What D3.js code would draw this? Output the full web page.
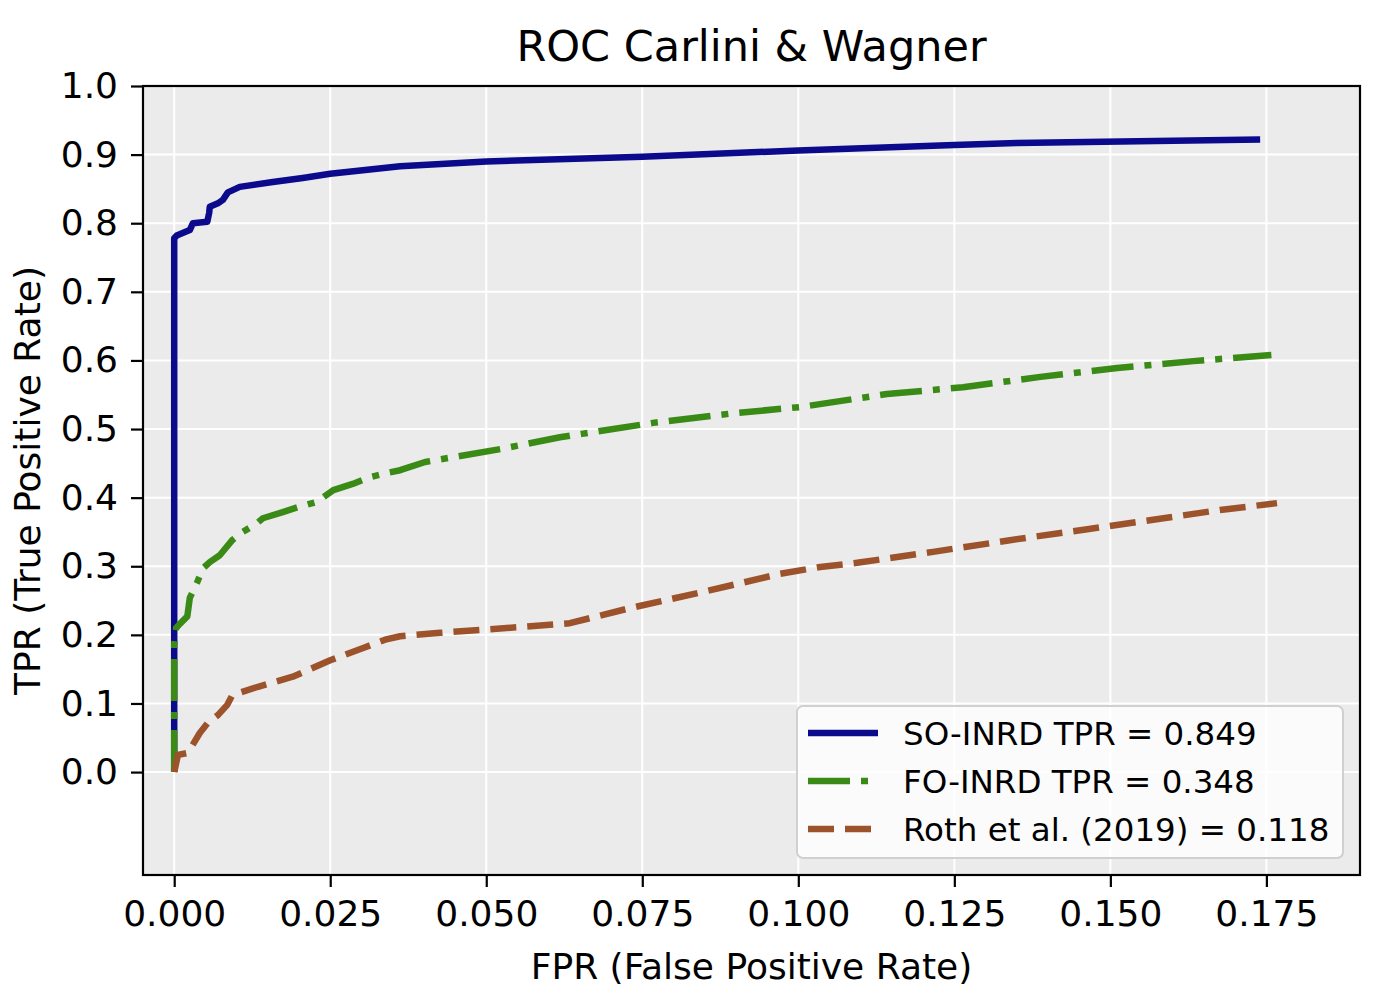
<!DOCTYPE html>
<html>
<head>
<meta charset="utf-8">
<script src="https://cdn.jsdelivr.net/npm/d3@7"></script>
<style>
  body { margin: 0; background: #fff; }
  svg { display: block; font-family: "DejaVu Sans", sans-serif; }
</style>
</head>
<body>
<svg id="chart" width="1397" height="1007"></svg>
<script>
// ROC curves
var soFpr = [0, 0, 0.0004, 0.0025, 0.0030, 0.0053, 0.0056, 0.0057, 0.0070, 0.0078, 0.0086, 0.0105, 0.0158, 0.0206, 0.0250, 0.0362, 0.0500, 0.0750, 0.1000, 0.1250, 0.1350, 0.1740];
var soTpr = [0, 0.778, 0.782, 0.790, 0.800, 0.802, 0.815, 0.824, 0.829, 0.834, 0.845, 0.853, 0.860, 0.866, 0.872, 0.883, 0.890, 0.897, 0.906, 0.914, 0.917, 0.922];

var foFpr = [0, 0, 0.0003, 0.0009, 0.0021, 0.0025, 0.0037, 0.0046, 0.0057, 0.0073, 0.0093, 0.0110, 0.0133, 0.0142, 0.0174, 0.0198, 0.0229, 0.0255, 0.0286, 0.0314, 0.0341, 0.0362, 0.0402, 0.0530, 0.0618, 0.0653, 0.0767, 0.0896, 0.1003, 0.1142, 0.1264, 0.1388, 0.1511, 0.1633, 0.1758];
var foTpr = [0, 0.185, 0.210, 0.216, 0.227, 0.254, 0.277, 0.297, 0.306, 0.316, 0.338, 0.350, 0.363, 0.370, 0.379, 0.386, 0.394, 0.411, 0.420, 0.430, 0.436, 0.440, 0.452, 0.472, 0.488, 0.493, 0.509, 0.523, 0.532, 0.551, 0.561, 0.576, 0.589, 0.599, 0.608];

var rothFpr = [0, 0.0001, 0.0006, 0.0022, 0.0041, 0.0054, 0.0070, 0.0085, 0.0093, 0.0133, 0.0190, 0.0250, 0.0306, 0.0338, 0.0362, 0.0426, 0.0549, 0.0634, 0.0730, 0.0854, 0.0971, 0.1035, 0.1094, 0.1216, 0.1339, 0.1463, 0.1585, 0.1676, 0.1767];
var rothTpr = [0, 0.004, 0.025, 0.028, 0.057, 0.072, 0.083, 0.098, 0.112, 0.124, 0.139, 0.163, 0.182, 0.193, 0.198, 0.203, 0.211, 0.217, 0.239, 0.264, 0.289, 0.299, 0.305, 0.321, 0.338, 0.354, 0.370, 0.382, 0.392];

var seriesNames = ['SO-INRD TPR = 0.849', 'FO-INRD TPR = 0.348', 'Roth et al. (2019) = 0.118'];
var xTicks = [0, 0.025, 0.05, 0.075, 0.1, 0.125, 0.15, 0.175];
var yTicks = [0, 0.1, 0.2, 0.3, 0.4, 0.5, 0.6, 0.7, 0.8, 0.9, 1.0];

var svg = d3.select('#chart');
var plotL = 143, plotR = 1360, plotT = 86, plotB = 875;

var x = d3.scaleLinear().domain([-0.005, 0.19]).range([plotL, plotR]);
var y = d3.scaleLinear().domain([-0.15, 1.0]).range([plotB, plotT]);

var series = [
  {name: seriesNames[0], fpr: soFpr, tpr: soTpr, color: '#0b0a8c', dash: null},
  {name: seriesNames[1], fpr: foFpr, tpr: foTpr, color: '#3a8a16', dash: '42,11,7,11'},
  {name: seriesNames[2], fpr: rothFpr, tpr: rothTpr, color: '#9c532b', dash: '26,11'}
];

// panel + grid
svg.append('rect')
  .attr('x', plotL).attr('y', plotT)
  .attr('width', plotR - plotL).attr('height', plotB - plotT)
  .style('fill', '#ebebeb');

var grid = svg.append('g');
grid.selectAll('.vgrid').data(xTicks).enter().append('line')
  .attr('x1', function(d){return x(d)}).attr('x2', function(d){return x(d)})
  .attr('y1', plotT).attr('y2', plotB)
  .style('stroke', '#fff').style('stroke-width', 2);
grid.selectAll('.hgrid').data(yTicks).enter().append('line')
  .attr('y1', function(d){return y(d)}).attr('y2', function(d){return y(d)})
  .attr('x1', plotL).attr('x2', plotR)
  .style('stroke', '#fff').style('stroke-width', 2);

// curves (drawn in legend order, later ones on top)
var line = d3.line()
  .x(function(d){return x(d[0])})
  .y(function(d){return y(d[1])});

svg.append('clipPath').attr('id', 'clip')
  .append('rect').attr('x', plotL).attr('y', plotT).attr('width', plotR - plotL).attr('height', plotB - plotT);

var curves = svg.append('g').attr('clip-path', 'url(#clip)');
series.forEach(function(s){
  var pts = d3.zip(s.fpr, s.tpr);
  curves.append('path')
    .datum(pts)
    .attr('d', line)
    .style('fill', 'none')
    .style('stroke', s.color)
    .style('stroke-width', 6.5)
    .style('stroke-linejoin', 'round')
    .style('stroke-dasharray', s.dash);
});

// axes
var xAxis = d3.axisBottom(x).tickValues(xTicks).tickFormat(d3.format('.3f')).tickSize(12).tickPadding(13);
var yAxis = d3.axisLeft(y).tickValues(yTicks).tickFormat(d3.format('.1f')).tickSize(12).tickPadding(13);

var gx = svg.append('g').attr('transform', 'translate(0,' + plotB + ')').call(xAxis);
var gy = svg.append('g').attr('transform', 'translate(' + plotL + ',0)').call(yAxis);
[gx, gy].forEach(function(g){
  g.select('.domain').remove();
  g.selectAll('.tick line').style('stroke', '#000').style('stroke-width', 2.2);
  g.selectAll('.tick text').style('font-size', '36px').style('fill', '#000').style('font-family', '"DejaVu Sans", sans-serif');
});

svg.append('rect')
  .attr('x', plotL).attr('y', plotT)
  .attr('width', plotR - plotL).attr('height', plotB - plotT)
  .style('fill', 'none').style('stroke', '#000').style('stroke-width', 2.2);

// labels
svg.append('text')
  .attr('x', (plotL + plotR) / 2).attr('y', 61)
  .attr('text-anchor', 'middle')
  .style('font-size', '43px')
  .text('ROC Carlini & Wagner');

svg.append('text')
  .attr('x', (plotL + plotR) / 2).attr('y', 979)
  .attr('text-anchor', 'middle')
  .style('font-size', '36px')
  .text('FPR (False Positive Rate)');

svg.append('text')
  .attr('transform', 'translate(40,' + ((plotT + plotB) / 2) + ') rotate(-90)')
  .attr('text-anchor', 'middle')
  .style('font-size', '36px')
  .text('TPR (True Positive Rate)');

// legend
var legend = svg.append('g');
legend.append('rect')
  .attr('x', 797).attr('y', 706).attr('width', 546).attr('height', 152)
  .attr('rx', 6).attr('ry', 6)
  .style('fill', '#fff').style('fill-opacity', 0.8)
  .style('stroke', '#d0d0d0').style('stroke-width', 2);

var rowY = d3.scalePoint().domain(seriesNames).range([733, 829]);
series.forEach(function(s){
  var yy = rowY(s.name);
  legend.append('line')
    .attr('x1', 808).attr('x2', 878).attr('y1', yy).attr('y2', yy)
    .style('stroke', s.color).style('stroke-width', 6.5)
    .style('stroke-dasharray', s.dash);
  legend.append('text')
    .attr('x', 903).attr('y', yy + 12)
    .style('font-size', '32.5px')
    .text(s.name);
});
</script>
</body>
</html>
